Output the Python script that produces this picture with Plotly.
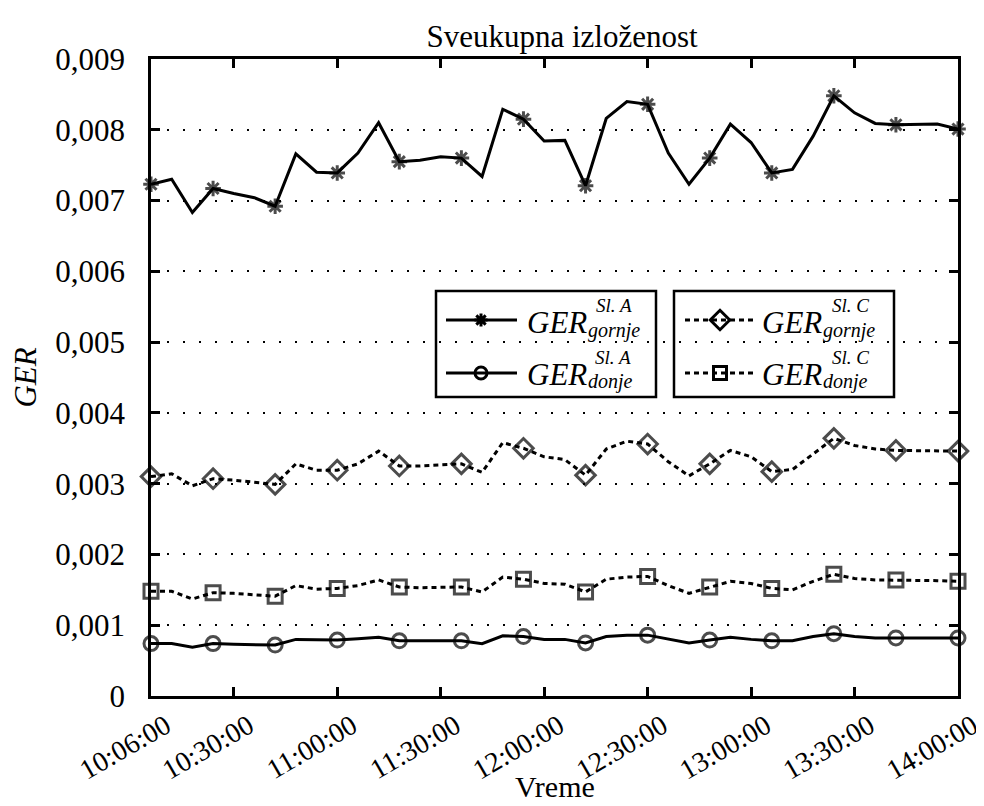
import plotly.graph_objects as go
import pandas as pd

# ---------------- data ----------------
times = pd.date_range("2000-01-01 10:06:00", "2000-01-01 14:00:00", freq="6min")

ger_A_gornje = [0.00723, 0.00730, 0.00683, 0.00717, 0.00710, 0.00704, 0.00692, 0.00766, 0.00740, 0.00739,
                0.00767, 0.00810, 0.00755, 0.00757, 0.00762, 0.00760, 0.00734, 0.00829, 0.00815, 0.00784,
                0.00785, 0.00721, 0.00816, 0.00840, 0.00836, 0.00767, 0.00723, 0.00760, 0.00808, 0.00782,
                0.00739, 0.00744, 0.00791, 0.00848, 0.00824, 0.00809, 0.00807, 0.00808, 0.00808, 0.00801]

ger_A_donje = [0.00074, 0.00074, 0.00069, 0.00074, 0.00073, 0.00072, 0.00072, 0.00080, 0.00079, 0.00079,
               0.00081, 0.00083, 0.00078, 0.00078, 0.00078, 0.00078, 0.00074, 0.00085, 0.00084, 0.00080,
               0.00080, 0.00075, 0.00084, 0.00086, 0.00086, 0.00081, 0.00075, 0.00079, 0.00083, 0.00080,
               0.00078, 0.00078, 0.00084, 0.00088, 0.00084, 0.00082, 0.00082, 0.00082, 0.00082, 0.00082]

ger_C_gornje = [0.00310, 0.00314, 0.00297, 0.00307, 0.00305, 0.00302, 0.00299, 0.00328, 0.00319, 0.00319,
                0.00328, 0.00346, 0.00325, 0.00325, 0.00327, 0.00328, 0.00316, 0.00358, 0.00350, 0.00338,
                0.00334, 0.00312, 0.00349, 0.00360, 0.00356, 0.00331, 0.00311, 0.00328, 0.00347, 0.00338,
                0.00317, 0.00320, 0.00342, 0.00364, 0.00354, 0.00349, 0.00347, 0.00347, 0.00347, 0.00346]

ger_C_donje = [0.00148, 0.00148, 0.00137, 0.00146, 0.00145, 0.00143, 0.00141, 0.00156, 0.00151, 0.00152,
               0.00156, 0.00164, 0.00154, 0.00153, 0.00153, 0.00154, 0.00147, 0.00168, 0.00165, 0.00159,
               0.00158, 0.00147, 0.00165, 0.00168, 0.00169, 0.00156, 0.00145, 0.00154, 0.00162, 0.00159,
               0.00152, 0.00150, 0.00162, 0.00172, 0.00166, 0.00164, 0.00164, 0.00163, 0.00163, 0.00162]

x_tick_times = ["10:06:00", "10:30:00", "11:00:00", "11:30:00", "12:00:00",
                "12:30:00", "13:00:00", "13:30:00", "14:00:00"]
y_tick_vals = [0, 0.001, 0.002, 0.003, 0.004, 0.005, 0.006, 0.007, 0.008, 0.009]
y_tick_text = ["0", "0,001", "0,002", "0,003", "0,004", "0,005", "0,006", "0,007", "0,008", "0,009"]

legend_main = "GER"
legend_subs = ["gornje", "donje"]
legend_sups = ["Sl. A", "Sl. C"]

title_text = "Sveukupna izloženost"
x_title = "Vreme"
y_title = "<i>GER</i>"

# ---------------- style ----------------
FONT = "Liberation Serif, Times New Roman, serif"
BLACK = "black"
W, H = 984, 806
L, R, T, B = 143, 950, 51, 688   # plot area in pixels


def px(x):
    return (x - L) / (R - L)


def py(y):
    return (B - y) / (B - T)


n = len(times)
every3 = [i % 3 == 0 for i in range(n)]

series = [
    (ger_A_gornje, "asterisk-open", 13, "solid"),
    (ger_A_donje, "circle-open", 14, "solid"),
    (ger_C_gornje, "diamond-open", 15, "5px,4px"),
    (ger_C_donje, "square-open", 14, "5px,4px"),
]

fig = go.Figure()
for vals, sym, size, dash in series:
    fig.add_trace(go.Scatter(
        x=times, y=vals, mode="lines+markers",
        line=dict(color=BLACK, width=3, dash=dash),
        marker=dict(symbol=sym, size=[size if m else 0 for m in every3],
                    color=BLACK, line=dict(color=BLACK, width=3)),
        cliponaxis=False, showlegend=False, hoverinfo="skip"))

# ---------------- custom legend (two boxes) ----------------
shapes = []
annotations = []
legend_boxes = [
    # box x0, x1, line x0, x1, marker x, text x, sup right x, dash, symbols
    (428, 648, 438, 509, 473, 518, [625, 624], "solid",
     [("asterisk-open", 11), ("circle-open", 12)], legend_sups[0]),
    (666, 886, 677, 747, 712, 753, [862, 862], "5px,4px",
     [("diamond-open", 15), ("square-open", 13)], legend_sups[1]),
]
row_y = [312, 365]
ger_y = [314, 366]
sub_y = [322, 373]
sup_y = [297, 349]
GER_SIZE, SUB_SIZE, SUP_SIZE = 31, 20, 19
ger_w = 61
for bx0, bx1, lx0, lx1, mx, tx, supx, dash, syms, sup in legend_boxes:
    shapes.append(dict(type="rect", xref="paper", yref="paper",
                       x0=px(bx0), x1=px(bx1), y0=py(389), y1=py(283),
                       line=dict(color=BLACK, width=2.5), fillcolor="white", layer="between"))
    for k in range(2):
        sym, size = syms[k]
        ry = row_y[k]
        shapes.append(dict(type="line", xref="paper", yref="paper",
                           x0=px(lx0), x1=px(lx1), y0=py(ry), y1=py(ry),
                           line=dict(color=BLACK, width=3, dash=dash), layer="between"))
        fig.add_trace(go.Scatter(
            x=[px(mx)], y=[py(ry)], xaxis="x2", yaxis="y2", mode="markers",
            marker=dict(symbol=sym, size=size, color=BLACK, line=dict(color=BLACK, width=3)),
            cliponaxis=False, showlegend=False, hoverinfo="skip"))
        annotations.append(dict(
            xref="paper", yref="paper", x=px(tx), y=py(ger_y[k]), xanchor="left", yanchor="middle",
            text=f"<i>{legend_main}</i>", showarrow=False, borderpad=0,
            font=dict(family=FONT, size=GER_SIZE, color=BLACK)))
        annotations.append(dict(
            xref="paper", yref="paper", x=px(tx + ger_w), y=py(sub_y[k]), xanchor="left", yanchor="middle",
            text=f"<i>{legend_subs[k]}</i>", showarrow=False, borderpad=0,
            font=dict(family=FONT, size=SUB_SIZE, color=BLACK)))
        annotations.append(dict(
            xref="paper", yref="paper", x=px(supx[k]), y=py(sup_y[k]), xanchor="right", yanchor="middle",
            text=f"<i>{sup}</i>", showarrow=False, borderpad=0,
            font=dict(family=FONT, size=SUP_SIZE, color=BLACK)))

# x-axis title placed as annotation under the rotated tick labels
annotations.append(dict(
    xref="paper", yref="paper", x=0.5, y=py(778), xanchor="center", yanchor="middle",
    text=x_title, showarrow=False, borderpad=0,
    font=dict(family=FONT, size=30, color=BLACK)))

tick_dates = [pd.Timestamp("2000-01-01 " + t) for t in x_tick_times]

fig.update_layout(
    width=W, height=H,
    margin=dict(l=L, r=W - R, t=T, b=H - B, autoexpand=False),
    paper_bgcolor="white", plot_bgcolor="white",
    font=dict(family=FONT, size=31, color=BLACK),
    title=dict(text=title_text, x=px(554), xref="paper", xanchor="center",
               y=1 - 28 / H, yanchor="middle", font=dict(family=FONT, size=31, color=BLACK)),
    xaxis=dict(
        type="date", range=[times[0], times[-1]], automargin=False,
        tickvals=tick_dates, ticktext=x_tick_times, tickangle=-30,
        showgrid=False, zeroline=False,
        showline=True, linecolor=BLACK, linewidth=2.5, mirror="ticks",
        ticks="inside", ticklen=9, tickwidth=2.5, tickcolor=BLACK,
        ticklabelshift=15, ticklabelstandoff=0,
        tickfont=dict(family=FONT, size=28, color=BLACK),
    ),
    yaxis=dict(
        range=[0, 0.009], tickvals=y_tick_vals, ticktext=y_tick_text, automargin=False,
        showgrid=True, gridcolor=BLACK, gridwidth=2, griddash="2px,14px",
        zeroline=False,
        showline=True, linecolor=BLACK, linewidth=2.5, mirror="ticks",
        ticks="inside", ticklen=9, tickwidth=2.5, tickcolor=BLACK,
        ticklabelstandoff=17,
        tickfont=dict(family=FONT, size=31, color=BLACK),
        title=dict(text=y_title, standoff=18, font=dict(family=FONT, size=31, color=BLACK)),
    ),
    xaxis2=dict(overlaying="x", range=[0, 1], visible=False, fixedrange=True, automargin=False),
    yaxis2=dict(overlaying="y", range=[0, 1], visible=False, fixedrange=True, automargin=False),
    shapes=shapes,
    annotations=annotations,
    showlegend=False,
)

fig.write_html("out.html")
